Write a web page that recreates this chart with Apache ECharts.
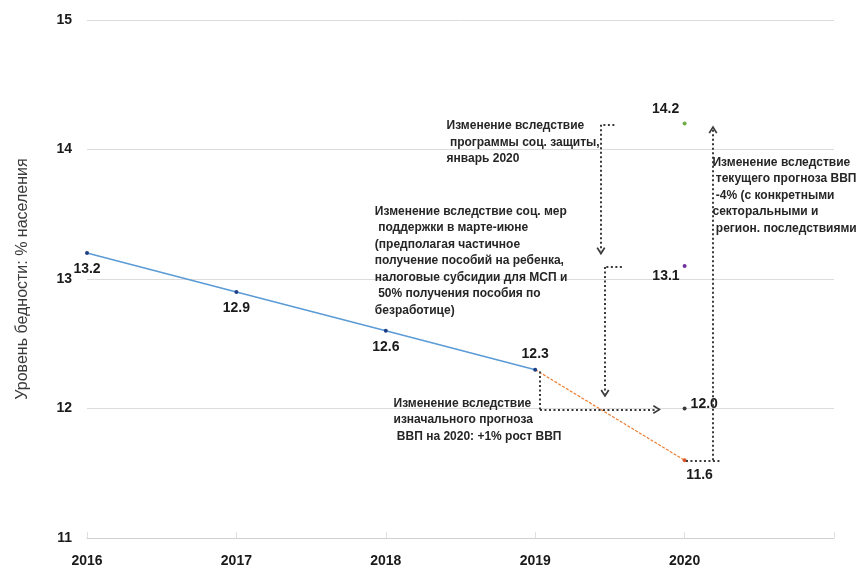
<!DOCTYPE html>
<html>
<head>
<meta charset="utf-8">
<script src="https://cdn.jsdelivr.net/npm/echarts@6/dist/echarts.min.js"></script>
<style>html,body{margin:0;padding:0;background:#fff;}#chart{width:860px;height:568px;}</style>
</head>
<body>
<div id="chart"></div>
<script>
// ---- data ----
var years = [2016, 2017, 2018, 2019];
var actualValues = [13.2, 12.9, 12.6, 12.3];
var forecastYears = [2019, 2020];
var forecastValues = [12.3, 11.6];
var scenarioYear = 2020;
var scenarioValues = [12.0, 13.1, 14.2];
var yTicks = [11, 12, 13, 14, 15];
var xTickYears = [2016, 2017, 2018, 2019, 2020];
var yAxisTitle = 'Уровень бедности: % населения';

var noteTexts = [
  'Изменение вследствие\n программы соц. защиты,\nянварь 2020',
  'Изменение вследствие соц. мер\n поддержки в марте-июне\n(предполагая частичное\nполучение пособий на ребенка,\nналоговые субсидии для МСП и\n 50% получения пособия по\nбезработице)',
  'Изменение вследствие\n текущего прогноза ВВП\n -4% (с конкретными\nсекторальными и\n регион. последствиями',
  'Изменение вследствие\nизначального прогноза\n ВВП на 2020: +1% рост ВВП'
];
// note anchors (top-left) in data units [year, value]
var noteAnchors = [[2018.41, 14.24], [2017.93, 13.58], [2020.19, 13.96], [2018.055, 12.1]];

// dotted paths in data units
var arrowPaths = [
  [[2019.032, 12.285], [2019.032, 11.992], [2019.815, 11.992]],
  [[2019.53, 14.192], [2019.44, 14.192], [2019.44, 13.215]],
  [[2019.58, 13.092], [2019.467, 13.092], [2019.467, 12.115]],
  [[2020.009, 11.6], [2020.237, 11.6]],
  [[2020.19, 11.6], [2020.19, 14.154]]
];
var arrowHeads = [true, true, true, false, true];

// ---- styles ----
var FONT = 'Liberation Sans';
var scenarioColors = ['#3a3a3a', '#7030a0', '#70ad47'];
var scenarioLabel = [
  {position: 'right', distance: 4, offset: [0, -4]},
  {position: 'left', distance: 3, offset: [0, 10]},
  {position: 'top', distance: 5, offset: [-19, 0]}
];
var chevron = 'path://M0,9 L5,0 L10,9 L8.3,10 L5,3.8 L1.7,10 Z';

var segments = [];
arrowPaths.forEach(function (p, k) {
  for (var i = 0; i < p.length - 1; i++) {
    var last = (i === p.length - 2) && arrowHeads[k];
    segments.push([
      {coord: p[i], symbol: 'none'},
      {coord: p[i + 1], symbol: last ? chevron : 'none', symbolSize: [9, 8]}
    ]);
  }
});

var notePoints = noteTexts.map(function (t, i) {
  return {coord: noteAnchors[i], value: t};
});

var dataLabel = {show: true, fontFamily: FONT, fontWeight: 'bold', fontSize: 14, color: '#1a1a1a'};

var chart = echarts.init(document.getElementById('chart'));
chart.setOption({
  animation: false,
  grid: {left: 87, right: 26, top: 20, bottom: 28, containLabel: false},
  xAxis: {
    type: 'value', min: 2016, max: 2021, interval: 1,
    axisLine: {show: true, lineStyle: {color: '#d0d0d0', width: 1}},
    axisTick: {show: true, inside: true, length: 6, lineStyle: {color: '#e0e0e0'}},
    splitLine: {show: false},
    axisLabel: {
      margin: 16, fontFamily: FONT, fontWeight: 'bold', fontSize: 14, color: '#1a1a1a',
      formatter: function (v) { return xTickYears.indexOf(v) >= 0 ? String(v) : ''; }
    }
  },
  yAxis: {
    type: 'value', min: yTicks[0], max: yTicks[yTicks.length - 1], interval: 1,
    name: yAxisTitle, nameLocation: 'middle', nameGap: 56, nameRotate: 90,
    nameTextStyle: {fontFamily: FONT, fontSize: 16, color: '#3a3a3a'},
    axisLine: {show: false}, axisTick: {show: false},
    splitLine: {show: true, lineStyle: {color: '#dcdcdc', width: 1}},
    axisLabel: {margin: 15, fontFamily: FONT, fontWeight: 'bold', fontSize: 14, color: '#1a1a1a'}
  },
  series: [
    {
      type: 'line', name: 'forecast',
      data: forecastYears.map(function (y, i) {
        return i === 0 ? {value: [y, forecastValues[i]], symbolSize: 0, label: {show: false}}
                       : {value: [y, forecastValues[i]]};
      }),
      lineStyle: {color: '#ed7d31', width: 1.2, type: [3, 1.5]},
      symbol: 'circle', symbolSize: 4, itemStyle: {color: '#e0552a'},
      label: Object.assign({}, dataLabel, {position: 'bottom', distance: 6, offset: [15, 0]}),
      z: 2
    },
    {
      type: 'line', name: 'actual',
      data: years.map(function (y, i) {
        var item = {value: [y, actualValues[i]]};
        if (i === years.length - 1) item.label = {position: 'top', distance: 7};
        return item;
      }),
      lineStyle: {color: '#5b9bd5', width: 1.5},
      symbol: 'circle', symbolSize: 4, itemStyle: {color: '#1f3f85'},
      label: Object.assign({}, dataLabel, {position: 'bottom', distance: 7}),
      z: 3
    },
    {
      type: 'scatter', name: 'scenarios',
      data: scenarioValues.map(function (v, i) {
        return {
          value: [scenarioYear, v],
          itemStyle: {color: scenarioColors[i], opacity: 1},
          label: scenarioLabel[i]
        };
      }),
      symbol: 'circle', symbolSize: 4,
      itemStyle: {opacity: 1},
      label: Object.assign({}, dataLabel, {formatter: function (p) { return p.value[1].toFixed(1); }}),
      markLine: {
        silent: true, animation: false,
        symbol: ['none', 'none'],
        label: {show: false},
        emphasis: {disabled: true},
        lineStyle: {color: '#3a3a3a', width: 2, type: [2, 2.5], opacity: 1},
        data: segments
      },
      markPoint: {
        silent: true, animation: false,
        symbol: 'circle', symbolSize: 1,
        itemStyle: {color: 'rgba(0,0,0,0)'},
        label: {
          show: true, position: [0, 0], align: 'left', verticalAlign: 'top',
          fontFamily: FONT, fontWeight: 'bold', fontSize: 12, lineHeight: 16.5, color: '#262626',
          formatter: function (p) { return p.data.value; }
        },
        emphasis: {disabled: true},
        data: notePoints
      },
      z: 4
    }
  ]
});
</script>
</body>
</html>
